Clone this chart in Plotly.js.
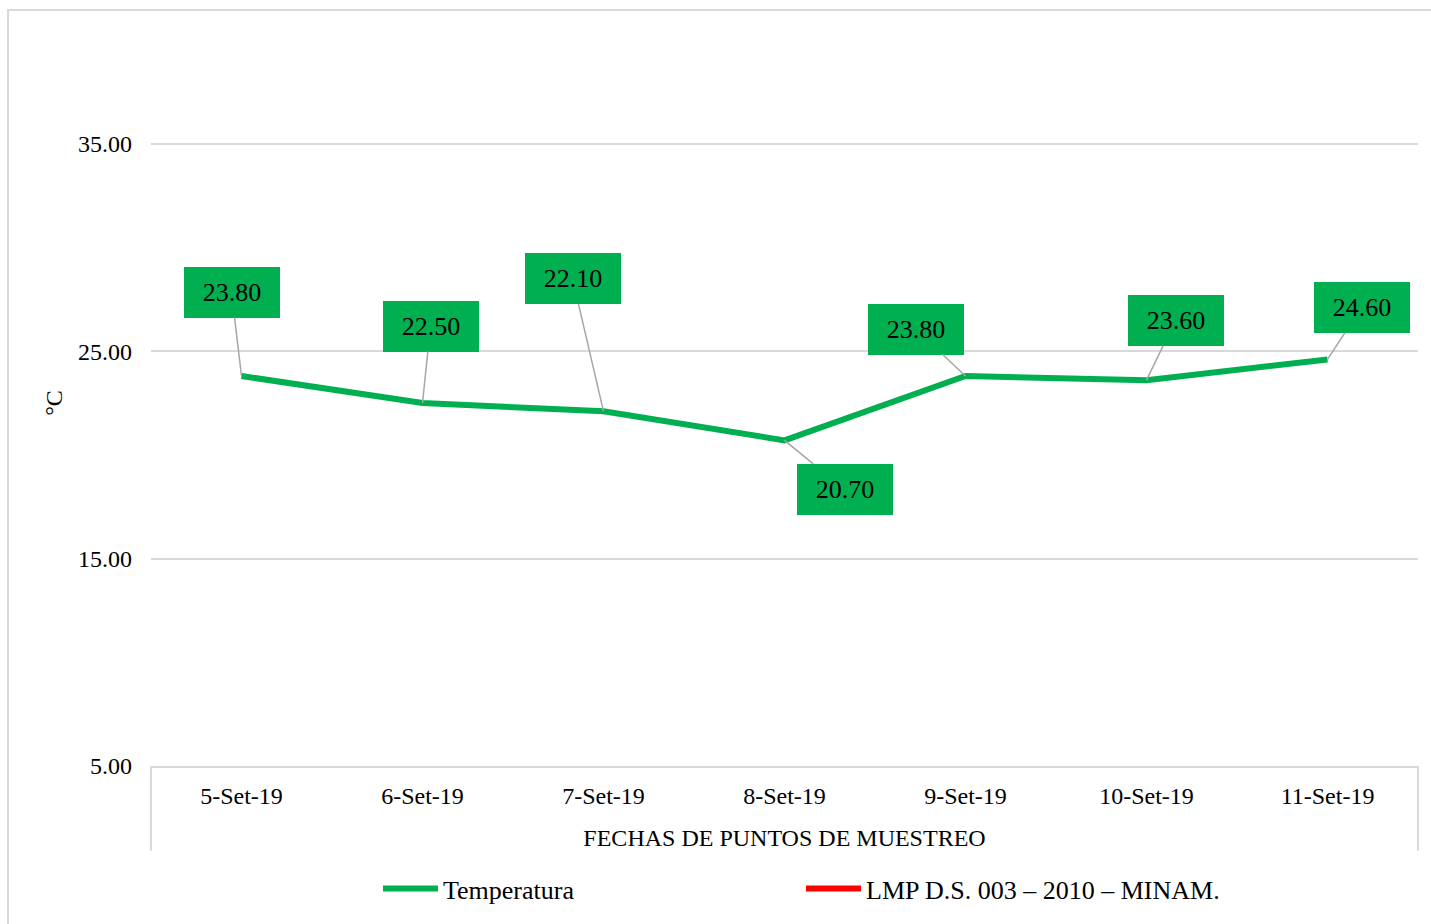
<!DOCTYPE html>
<html>
<head>
<meta charset="utf-8">
<script src="https://cdn.plot.ly/plotly-3.0.1.min.js"></script>
<style>
html,body{margin:0;padding:0;background:#fff;}
#chart{width:1431px;height:924px;}
</style>
</head>
<body>
<div id="chart"></div>
<script>
const categories = ["5-Set-19","6-Set-19","7-Set-19","8-Set-19","9-Set-19","10-Set-19","11-Set-19"];
const temperatura = [23.80, 22.50, 22.10, 20.70, 23.80, 23.60, 24.60];
const lmp = [null, null, null, null, null, null, null];
const labelOffsetX = [-10, 8, -31, 60, -50, 29, 34];
const labelOffsetY = [-84, -77, -133, 49, -47, -60, -52];

const FONT = "Liberation Serif, Times New Roman, serif";
const GREEN = "#00b050";

const traces = [
  {
    x: categories, y: temperatura, type: "scatter", mode: "lines",
    name: "Temperatura",
    line: {color: GREEN, width: 6},
    hoverinfo: "skip"
  },
  {
    x: categories, y: lmp, type: "scatter", mode: "lines",
    name: "LMP D.S. 003 – 2010 – MINAM.",
    line: {color: "#ff0000", width: 6},
    showlegend: true,
    hoverinfo: "skip"
  }
];

const annotations = temperatura.map((v, i) => ({
  x: categories[i], y: v, xref: "x", yref: "y",
  text: v.toFixed(2),
  showarrow: true, arrowhead: 0, arrowwidth: 1.5, arrowcolor: "#a6a6a6",
  ax: labelOffsetX[i], ay: labelOffsetY[i],
  bgcolor: GREEN, borderpad: 4, borderwidth: 0,
  width: 88, height: 43,
  font: {family: FONT, size: 26, color: "#000"}
}));

const PLOT_H = 728, PLOT_W = 1267;
const shapes = [
  {type: "line", xref: "paper", yref: "paper", x0: 0, x1: 0, y0: 0, y1: -85/PLOT_H, line: {color: "#d9d9d9", width: 2}},
  {type: "line", xref: "paper", yref: "paper", x0: 1, x1: 1, y0: 0, y1: -85/PLOT_H, line: {color: "#d9d9d9", width: 2}},
  {type: "rect", xref: "paper", yref: "paper",
   x0: (8-151)/PLOT_W, x1: (1445-151)/PLOT_W,
   y0: (768-10)/PLOT_H, y1: (768-940)/PLOT_H,
   line: {color: "#d9d9d9", width: 2}, fillcolor: "rgba(0,0,0,0)", layer: "below"}
];

const layout = {
  width: 1431, height: 924,
  margin: {l: 151, r: 13, t: 40, b: 156},
  paper_bgcolor: "#fff", plot_bgcolor: "#fff",
  font: {family: FONT, size: 24, color: "#000"},
  showlegend: true,
  legend: {
    orientation: "h", x: (801-151)/PLOT_W, xanchor: "center",
    y: (768-891)/PLOT_H, yanchor: "middle",
    font: {family: FONT, size: 26, color: "#000"},
    itemwidth: 55, entrywidth: 353, entrywidthmode: "pixels",
    bgcolor: "rgba(0,0,0,0)"
  },
  xaxis: {
    type: "category", range: [-0.5, 6.5],
    showline: true, linecolor: "#d9d9d9", linewidth: 2,
    showgrid: false, zeroline: false, ticks: "",
    ticklabelstandoff: 7,
    tickfont: {family: FONT, size: 24, color: "#000"},
    title: {text: "FECHAS DE PUNTOS DE MUESTREO", font: {family: FONT, size: 24, color: "#000"}, standoff: 21},
    fixedrange: true
  },
  yaxis: {
    range: [5, 40], tick0: 5, dtick: 10, tickformat: ".2f",
    showline: false, showgrid: true, gridcolor: "#d9d9d9", gridwidth: 2,
    zeroline: false, ticks: "",
    ticklabelstandoff: 18,
    tickfont: {family: FONT, size: 24, color: "#000"},
    title: {text: "°C", font: {family: FONT, size: 24, color: "#000"}, standoff: 8},
    fixedrange: true
  },
  annotations: annotations,
  shapes: shapes
};

Plotly.newPlot("chart", traces, layout, {displayModeBar: false, staticPlot: true});
</script>
</body>
</html>
